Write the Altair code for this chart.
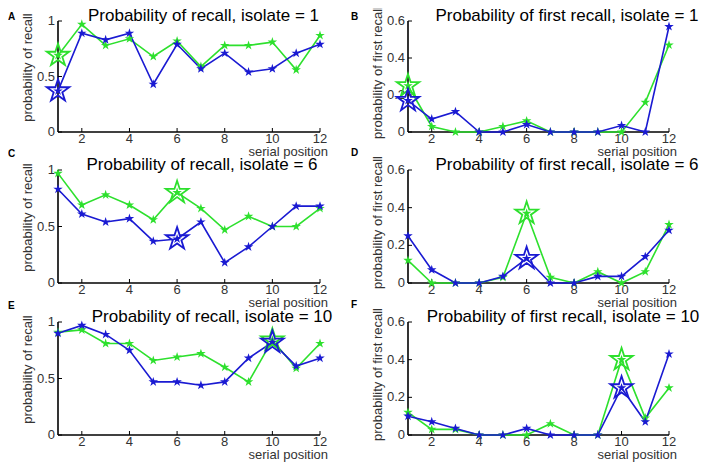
import altair as alt
import pandas as pd

FONT = "Liberation Sans"

positions = list(range(1, 13))
series_names = ["high iq", "low iq"]
series_colors = ["#2de02d", "#1a1ad2"]

# Probability of recall
recall_iso1_high = [0.69, 0.97, 0.78, 0.84, 0.68, 0.82, 0.59, 0.78, 0.78, 0.81, 0.56, 0.87]
recall_iso1_low = [0.37, 0.89, 0.83, 0.89, 0.43, 0.79, 0.57, 0.71, 0.54, 0.57, 0.71, 0.79]
recall_iso6_high = [0.97, 0.69, 0.78, 0.69, 0.56, 0.80, 0.66, 0.47, 0.59, 0.50, 0.50, 0.66]
recall_iso6_low = [0.83, 0.61, 0.54, 0.57, 0.37, 0.39, 0.54, 0.18, 0.32, 0.50, 0.68, 0.68]
recall_iso10_high = [0.91, 0.93, 0.81, 0.81, 0.66, 0.69, 0.72, 0.60, 0.47, 0.84, 0.59, 0.81]
recall_iso10_low = [0.90, 0.97, 0.89, 0.75, 0.47, 0.47, 0.44, 0.47, 0.68, 0.82, 0.61, 0.68]

# Probability of first recall
first_iso1_high = [0.25, 0.03, 0.0, 0.0, 0.03, 0.06, 0.0, 0.0, 0.0, 0.0, 0.16, 0.47]
first_iso1_low = [0.17, 0.07, 0.11, 0.0, 0.0, 0.04, 0.0, 0.0, 0.0, 0.035, 0.0, 0.57]
first_iso6_high = [0.12, 0.0, 0.0, 0.0, 0.03, 0.37, 0.03, 0.0, 0.06, 0.0, 0.06, 0.31]
first_iso6_low = [0.25, 0.07, 0.0, 0.0, 0.035, 0.13, 0.0, 0.0, 0.035, 0.035, 0.14, 0.28]
first_iso10_high = [0.12, 0.03, 0.03, 0.0, 0.0, 0.0, 0.06, 0.0, 0.0, 0.40, 0.09, 0.25]
first_iso10_low = [0.10, 0.07, 0.035, 0.0, 0.0, 0.035, 0.0, 0.0, 0.0, 0.25, 0.07, 0.43]

x_tick_values = [2, 4, 6, 8, 10, 12]
x_tick_labels = ["2", "4", "6", "8", "10", "12"]
recall_ticks = [0, 0.5, 1]
recall_tick_labels = ["0", "0.5", "1"]
first_ticks = [0, 0.2, 0.4, 0.6]
first_tick_labels = ["0", "0.2", "0.4", "0.6"]

panel_letters = ["A", "B", "C", "D", "E", "F"]
panel_titles = [
    "Probability of recall, isolate = 1",
    "Probability of first recall, isolate = 1",
    "Probability of recall, isolate = 6",
    "Probability of first recall, isolate = 6",
    "Probability of recall, isolate = 10",
    "Probability of first recall, isolate = 10",
]
highlight_positions = [1, 1, 6, 6, 10, 10]

# layout of the six panels inside one drawing (pixels)
COL_X = [(50, 312), (400, 661)]
ROW_Y = [(13, 124), (162, 275), (314, 427)]
TITLE_X = [195.5, 559, 194, 559, 204, 555]
LETTER_XY = [(0, 12), (343, 12), (0, 149), (343, 148), (0, 301), (343, 300)]

STAR_PATH = (
    "M0,-1L0.2245,-0.309L0.951,-0.309L0.363,0.118L0.588,0.809L0,0.382"
    "L-0.588,0.809L-0.363,0.118L-0.951,-0.309L-0.2245,-0.309Z"
)
LEGEND_PATH = "M-2.4,-0.15H2.4V0.15H-2.4Z " + STAR_PATH

csc = alt.Scale(domain=series_names, range=series_colors)
LEG = alt.Legend(
    orient="none", legendX=554, legendY=19, title=None,
    symbolType=LEGEND_PATH, symbolSize=100, symbolStrokeWidth=0,
    symbolOpacity=1, symbolOffset=10, labelOffset=25, labelFont=FONT,
    labelFontSize=13, labelColor="#000000", strokeColor="#333333",
    fillColor="#ffffff", padding=3, rowPadding=2)

pairs = [
    (recall_iso1_high, recall_iso1_low),
    (first_iso1_high, first_iso1_low),
    (recall_iso6_high, recall_iso6_low),
    (first_iso6_high, first_iso6_low),
    (recall_iso10_high, recall_iso10_low),
    (first_iso10_high, first_iso10_low),
]

one = pd.DataFrame({"k": [0]})
layers = []
for i, (high, low) in enumerate(pairs):
    col, row = i % 2, i // 2
    x0, x1 = COL_X[col]
    y0, y1 = ROW_Y[row]
    is_first = col == 1
    ymax = 0.6 if is_first else 1.0
    ytv = first_ticks if is_first else recall_ticks
    ytl = first_tick_labels if is_first else recall_tick_labels
    ytitle = "probability of first recall" if is_first else "probability of recall"

    xs = alt.Scale(domain=[1, 12], range=[x0, x1], nice=False, zero=False)
    ys = alt.Scale(domain=[0, ymax], range=[y1, y0], nice=False, zero=False)

    df = pd.DataFrame({
        "pos": positions + positions,
        "val": high + low,
        "series": [series_names[0]] * 12 + [series_names[1]] * 12,
    })
    hp = highlight_positions[i]
    big_df = pd.DataFrame({
        "pos": [hp, hp],
        "val": [high[hp - 1], low[hp - 1]],
        "series": series_names,
    })
    X = alt.X("pos:Q", scale=xs, axis=None)
    Y = alt.Y("val:Q", scale=ys, axis=None)

    # axis lines
    layers.append(alt.Chart(one).mark_rule(color="#000000", strokeWidth=1.6).encode(
        x=alt.value(x0), y=alt.value(y0), y2=alt.value(y1)))
    layers.append(alt.Chart(one).mark_rule(color="#000000", strokeWidth=1.6).encode(
        x=alt.value(x0), x2=alt.value(x1), y=alt.value(y1)))

    # inward ticks
    layers.append(alt.Chart(pd.DataFrame({"tv": x_tick_values})).mark_rule(
        color="#000000", strokeWidth=1).encode(
        x=alt.X("tv:Q", scale=xs, axis=None), y=alt.value(y1), y2=alt.value(y1 - 4)))
    layers.append(alt.Chart(pd.DataFrame({"tv": ytv})).mark_rule(
        color="#000000", strokeWidth=1).encode(
        y=alt.Y("tv:Q", scale=ys, axis=None), x=alt.value(x0), x2=alt.value(x0 + 4)))

    # tick labels
    layers.append(alt.Chart(pd.DataFrame({"tv": x_tick_values, "tl": x_tick_labels})).mark_text(
        font=FONT, fontSize=13, color="#333333", align="center", baseline="top").encode(
        x=alt.X("tv:Q", scale=xs, axis=None), y=alt.value(y1 + 1), text="tl:N"))
    layers.append(alt.Chart(pd.DataFrame({"tv": ytv, "tl": ytl})).mark_text(
        font=FONT, fontSize=13, color="#333333", align="right", baseline="middle").encode(
        y=alt.Y("tv:Q", scale=ys, axis=None), x=alt.value(x0 - 3), text="tl:N"))

    # axis titles
    layers.append(alt.Chart(pd.DataFrame({"t": [ytitle]})).mark_text(
        font=FONT, fontSize=13, color="#333333", angle=270, align="center",
        baseline="middle").encode(
        x=alt.value(x0 - 30), y=alt.value((y0 + y1) / 2 - (4 if is_first else 9)), text="t:N"))
    layers.append(alt.Chart(pd.DataFrame({"t": ["serial position"]})).mark_text(
        font=FONT, fontSize=13, color="#333333", align="right", baseline="alphabetic").encode(
        x=alt.value(x1 + 8), y=alt.value(y1 + 24), text="t:N"))

    # data
    layers.append(alt.Chart(df).mark_line(strokeWidth=1.6).encode(
        x=X, y=Y, stroke=alt.Stroke("series:N", scale=csc, legend=None)))
    layers.append(alt.Chart(df).mark_point(
        shape=STAR_PATH, filled=True, size=100, opacity=1, strokeWidth=0).encode(
        x=X, y=Y, color=alt.Color("series:N", scale=csc, legend=LEG)))
    layers.append(alt.Chart(big_df).mark_point(
        shape=STAR_PATH, filled=False, size=560, strokeWidth=1.8, opacity=1).encode(
        x=X, y=Y, stroke=alt.Stroke("series:N", scale=csc, legend=None)))

    # panel title and letter
    layers.append(alt.Chart(pd.DataFrame({"t": [panel_titles[i]]})).mark_text(
        font=FONT, fontSize=17, color="#000000", align="center", baseline="alphabetic").encode(
        x=alt.value(TITLE_X[i]), y=alt.value(y0), text="t:N"))
    lx, ly = LETTER_XY[i]
    layers.append(alt.Chart(pd.DataFrame({"t": [panel_letters[i]]})).mark_text(
        font=FONT, fontSize=10, fontWeight="bold", color="#000000", align="left",
        baseline="alphabetic").encode(
        x=alt.value(lx), y=alt.value(ly), text="t:N"))

chart = (
    alt.layer(*layers)
    .resolve_scale(x="independent", y="independent")
    .properties(width=692, height=455, padding=0,
                autosize=alt.AutoSizeParams(type="none"))
    .configure_view(stroke=None)
)

chart.save("out.html", embed_options={"renderer": "svg", "actions": False})
